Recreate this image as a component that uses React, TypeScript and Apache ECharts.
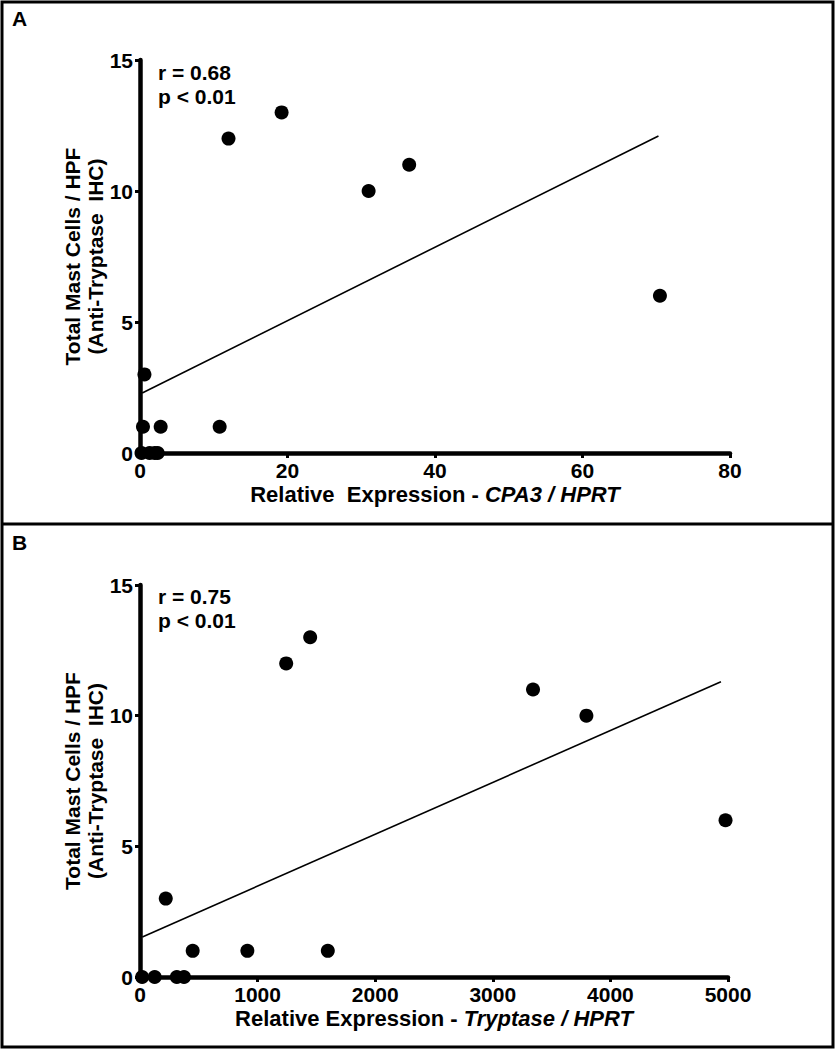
import React, { useEffect, useRef } from "react";
import * as echarts from "echarts";

// Panel A: CPA3 / HPRT vs mast cells
const cpa3X = [70.5, 19.2, 12.0, 31.0, 36.5, 10.8, 2.8, 0.6, 0.4, 0.2, 1.3, 2.0, 2.4];
const cpa3Y = [6, 13, 12, 10, 11, 1, 1, 3, 1, 0, 0, 0, 0];
const fitAX = [0.3, 70.3];
const fitAY = [2.29, 12.1];

// Panel B: Tryptase / HPRT vs mast cells
const tryptaseX = [4979, 3796, 3342, 1447, 1243, 219, 448, 913, 1597, 18, 125, 313, 374];
const tryptaseY = [6, 10, 11, 13, 12, 3, 1, 1, 1, 0, 0, 0, 0];
const fitBX = [20, 4940];
const fitBY = [1.53, 11.3];

const statsA = ["r = 0.68", "p < 0.01"];
const statsB = ["r = 0.75", "p < 0.01"];
const yTitle = ["Total Mast Cells / HPF", "(Anti-Tryptase  IHC)"];

const FONT = "'Liberation Sans', Arial, sans-serif";

function xAxisCfg(gridIndex: number, max: number, interval: number, name: string) {
  return {
    type: "value",
    gridIndex,
    min: 0,
    max,
    interval,
    name,
    nameLocation: "middle",
    nameGap: 30,
    nameMoveOverlap: false,
    nameTextStyle: {
      fontFamily: FONT,
      fontWeight: "bold",
      fontSize: 22,
      color: "#000",
      rich: {
        i: { fontFamily: FONT, fontWeight: "bold", fontStyle: "italic", fontSize: 22, color: "#000" },
      },
    },
    axisLine: { show: true, onZero: false, lineStyle: { color: "#000", width: 4.5 } },
    axisTick: { show: true, length: 5, lineStyle: { color: "#000", width: 3 } },
    axisLabel: {
      margin: 7,
      fontFamily: FONT,
      fontWeight: "bold",
      fontSize: 21,
      color: "#000",
      formatter: (v: number) => String(v),
    },
    splitLine: { show: false },
  };
}

function yAxisCfg(gridIndex: number) {
  return {
    type: "value",
    gridIndex,
    min: 0,
    max: 15,
    interval: 5,
    name: yTitle.join("\n"),
    nameLocation: "middle",
    nameGap: 33,
    nameMoveOverlap: false,
    nameTextStyle: {
      fontFamily: FONT,
      fontWeight: "bold",
      fontSize: 21,
      lineHeight: 23,
      color: "#000",
      align: "center",
    },
    axisLine: { show: true, onZero: false, lineStyle: { color: "#000", width: 4.5 } },
    axisTick: { show: true, length: 5, lineStyle: { color: "#000", width: 3 } },
    axisLabel: {
      margin: 7,
      fontFamily: FONT,
      fontWeight: "bold",
      fontSize: 21,
      color: "#000",
      formatter: (v: number) => String(v),
    },
    splitLine: { show: false },
  };
}

function zip(xs: number[], ys: number[]) {
  return xs.map((x, i) => [x, ys[i]]);
}

export default function App() {
  const ref = useRef<HTMLDivElement>(null);
  useEffect(() => {
    if (!ref.current) return;
    const chart = echarts.init(ref.current, null, { renderer: "svg" });
    const textStyle = { fontFamily: FONT, fontWeight: "bold", fontSize: 21, fill: "#000" };
    chart.setOption({
      animation: false,
      backgroundColor: "#fff",
      grid: [
        { left: 140, top: 60, width: 590, height: 393 },
        { left: 140, top: 585, width: 588, height: 392 },
      ],
      xAxis: [
        xAxisCfg(0, 80, 20, "Relative  Expression - {i|CPA3 / HPRT}"),
        xAxisCfg(1, 5000, 1000, "Relative Expression - {i|Tryptase / HPRT}"),
      ],
      yAxis: [yAxisCfg(0), yAxisCfg(1)],
      series: [
        {
          type: "line",
          xAxisIndex: 0,
          yAxisIndex: 0,
          data: zip(fitAX, fitAY),
          showSymbol: false,
          symbol: "none",
          lineStyle: { color: "#000", width: 1.6 },
          z: 3,
        },
        {
          type: "scatter",
          xAxisIndex: 0,
          yAxisIndex: 0,
          data: zip(cpa3X, cpa3Y),
          symbolSize: 14,
          itemStyle: { color: "#000", opacity: 1 },
          z: 4,
        },
        {
          type: "line",
          xAxisIndex: 1,
          yAxisIndex: 1,
          data: zip(fitBX, fitBY),
          showSymbol: false,
          symbol: "none",
          lineStyle: { color: "#000", width: 1.6 },
          z: 3,
        },
        {
          type: "scatter",
          xAxisIndex: 1,
          yAxisIndex: 1,
          data: zip(tryptaseX, tryptaseY),
          symbolSize: 14,
          itemStyle: { color: "#000", opacity: 1 },
          z: 4,
        },
      ],
      graphic: [
        {
          type: "rect",
          shape: { x: 2, y: 2, width: 831, height: 1045 },
          style: { fill: "none", stroke: "#000", lineWidth: 3 },
          z: 10,
        },
        {
          type: "line",
          shape: { x1: 2, y1: 524, x2: 833, y2: 524 },
          style: { stroke: "#000", lineWidth: 3 },
          z: 10,
        },
        { type: "text", left: 12, top: 8, style: { ...textStyle, text: "A" } },
        { type: "text", left: 12, top: 532, style: { ...textStyle, text: "B" } },
        { type: "text", left: 158, top: 60, style: { ...textStyle, text: statsA.join("\n"), lineHeight: 24 } },
        { type: "text", left: 158, top: 584, style: { ...textStyle, text: statsB.join("\n"), lineHeight: 24 } },
      ],
    });
    return () => chart.dispose();
  }, []);
  return (
    <div
      ref={ref}
      style={{ position: "absolute", left: 0, top: 0, width: 836, height: 1050, background: "#fff" }}
    />
  );
}
